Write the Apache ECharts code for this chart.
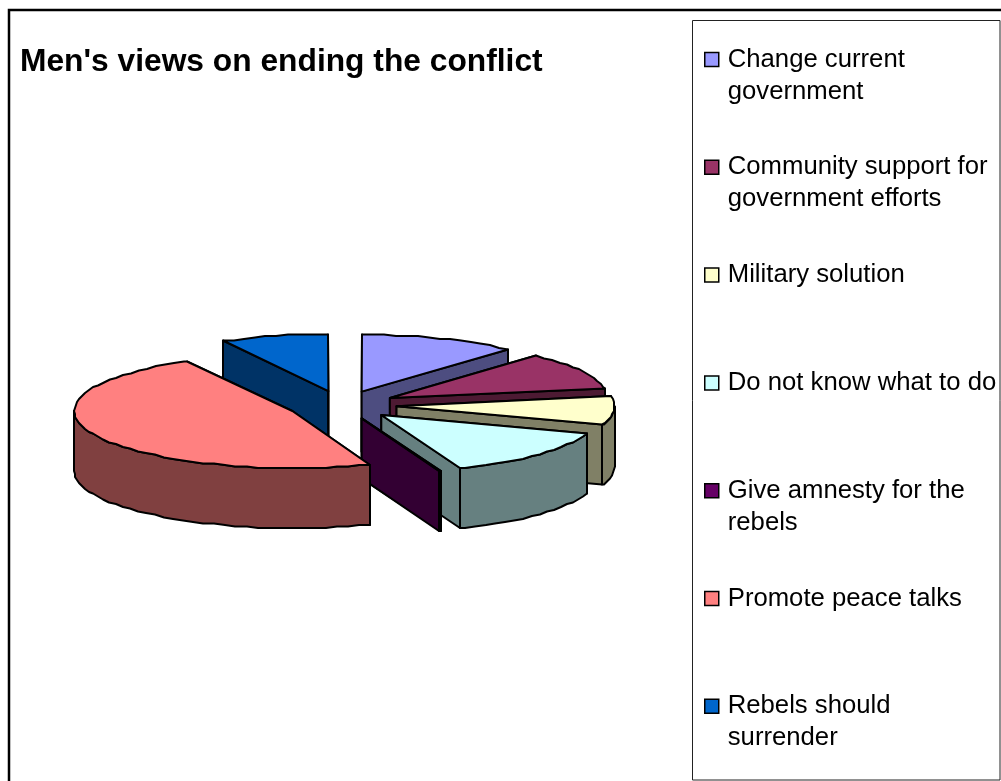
<!DOCTYPE html>
<html>
<head>
<meta charset="utf-8">
<style>html,body{margin:0;padding:0;background:#fff}#chart{width:1001px;height:781px}</style>
<script src="https://cdn.jsdelivr.net/npm/echarts@6/dist/echarts.min.js"></script>
</head>
<body>
<div id="chart"></div>
<script>
// Share of answers per option, in percent, clockwise from twelve o'clock.
const categories = [
  'Change current\ngovernment',
  'Community support for\ngovernment efforts',
  'Military solution',
  'Do not know what to do',
  'Give amnesty for the\nrebels',
  'Promote peace talks',
  'Rebels should\nsurrender'
];
const shares = [11.7, 10.5, 8.2, 13.7, 0.1, 47.8, 8.0];
const topColors = ['#9999FF', '#993366', '#FFFFCC', '#CCFFFF', '#660066', '#FF8080', '#0066CC'];
const wallColors = ['#4D4D80', '#4D1A33', '#808066', '#668080', '#330033', '#804040', '#003366'];
// Painting order, back of the pie to front.
const paintOrder = [6, 0, 1, 2, 3, 4, 5];

const explode = 0.251;      // slice offset, in pie radii
const wallDepth = 60 / 57;  // wall height, in vertical axis units
const arcStep = 3;          // degrees between outline samples

const total = shares.reduce((a, b) => a + b, 0);
const startAngles = [];
shares.reduce((acc, v, i) => { startAngles[i] = acc; return acc + v / total * 360; }, 0);

const rad = d => d * Math.PI / 180;

function sliceRenderer(index) {
  return function (params, api) {
    const sweep = api.value(2) / total * 360;
    const a0 = startAngles[index];
    const a1 = a0 + sweep;
    const mid = rad((a0 + a1) / 2);
    const ox = explode * Math.sin(mid);
    const oy = explode * Math.cos(mid);

    // Outline points snap to a coarse pixel raster, as low-resolution pie plots do.
    const snap = p => [Math.round(p[0]), Math.round(p[1] / 1.5) * 1.5];
    const rim = a => snap(api.coord([ox + Math.sin(rad(a)), oy + Math.cos(rad(a))]));
    const apex = api.coord([ox, oy]);
    const zero = api.coord([0, 0])[1];
    const depthPx = api.coord([0, -wallDepth])[1] - zero;
    const down = p => [p[0], p[1] + depthPx];

    const arc = (from, to) => {
      const pts = [];
      for (let a = from; a < to; a += arcStep) pts.push(rim(a));
      pts.push(rim(to));
      return pts;
    };
    const poly = (points, fill) => ({
      type: 'polygon',
      shape: { points },
      silent: true,
      style: { fill, stroke: '#000', lineWidth: 2, lineJoin: 'round' }
    });

    const children = [];
    const wall = wallColors[index];
    const p0 = rim(a0), p1 = rim(a1);
    children.push(poly([apex, p0, down(p0), down(apex)], wall));
    children.push(poly([apex, p1, down(p1), down(apex)], wall));

    // Only the part of the rim facing the viewer shows its outer wall.
    const f0 = Math.max(a0, 90), f1 = Math.min(a1, 270);
    if (f1 > f0) {
      const top = arc(f0, f1);
      children.push(poly(top.concat(top.map(down).reverse()), wall));
    }
    children.push(poly([apex].concat(arc(a0, a1)), topColors[index]));
    return { type: 'group', children };
  };
}

// Each legend label gets three lines, so the marker sits beside the first line of text.
const legendLabel = name => {
  const lines = name.split('\n');
  return '\n' + lines[0] + '\n' + (lines[1] || '');
};

const chart = echarts.init(document.getElementById('chart'), null, { renderer: 'canvas' });
chart.setOption({
  animation: false,
  backgroundColor: '#fff',
  title: {
    text: "Men's views on ending the conflict",
    left: 20, top: 46, padding: 0,
    textStyle: { fontFamily: 'Liberation Sans', fontSize: 31.75, fontWeight: 'bold', color: '#000' }
  },
  grid: { left: 15, width: 654, top: 234, height: 342 },
  xAxis: { type: 'value', min: -1.5, max: 1.5, show: false },
  yAxis: { type: 'value', min: -3, max: 3, show: false },
  legend: {
    orient: 'vertical',
    left: 704, top: 11.5,
    itemWidth: 14, itemHeight: 14, itemGap: 11.8,
    padding: 0,
    selectedMode: false,
    icon: 'rect',
    formatter: legendLabel,
    textStyle: {
      fontFamily: 'Liberation Sans', fontSize: 25.7, lineHeight: 32, color: '#000', padding: [0, 0, 0, 4]
    },
    data: categories.map((name, i) => ({
      name,
      itemStyle: { color: topColors[i], borderColor: '#000', borderWidth: 1.5 }
    }))
  },
  graphic: [
    { type: 'rect', z: -10, shape: { x: 9, y: 10, width: 1010, height: 790 },
      style: { fill: '#fff', stroke: '#000', lineWidth: 2.5 } },
    { type: 'rect', z: -9, shape: { x: 692.5, y: 20.5, width: 307.5, height: 759.5 },
      style: { fill: '#fff', stroke: '#222', lineWidth: 1 } }
  ],
  series: paintOrder.map((i, order) => ({
    type: 'custom',
    name: categories[i],
    coordinateSystem: 'cartesian2d',
    clip: false,
    z: 2 + order,
    silent: true,
    itemStyle: { color: topColors[i] },
    encode: { x: 0, y: 1 },
    renderItem: sliceRenderer(i),
    data: [[0, 0, shares[i]]]
  }))
});
</script>
</body>
</html>
